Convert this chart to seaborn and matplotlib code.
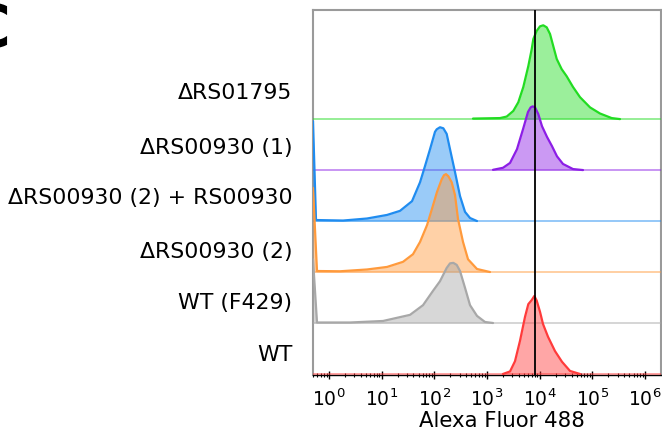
import numpy as np
import pandas as pd
import matplotlib
matplotlib.use("Agg")
import matplotlib.pyplot as plt
import seaborn as sns

# ---- data (log10 of Alexa Fluor 488 intensity, normalised event density) ----
labels = ["WT", "WT (F429)", "ΔRS00930 (2)", "ΔRS00930 (2) + RS00930",
          "ΔRS00930 (1)", "ΔRS01795"]
colors = ["#ff3b3b", "#a8a8a8", "#ff9a3c", "#1f8cf0", "#8c1ee6", "#22dc22"]

logx_wt = [3.30, 3.435, 3.529, 3.624, 3.719, 3.782, 3.846, 3.896, 3.941, 4.004,
           4.061, 4.156, 4.288, 4.421, 4.573, 4.763]
dens_wt = [0.0, 0.05, 0.25, 0.65, 1.12, 1.37, 1.45, 1.53, 1.44, 1.22,
           0.98, 0.73, 0.45, 0.24, 0.06, 0.0]

logx_f429 = [-0.304, -0.228, 0.398, 1.025, 1.537, 1.784, 1.973, 2.106, 2.233,
             2.296, 2.359, 2.423, 2.486, 2.581, 2.676, 2.808, 2.960, 3.112]
dens_f429 = [1.25, 0.01, 0.01, 0.04, 0.16, 0.35, 0.63, 0.82, 1.08,
             1.17, 1.18, 1.14, 1.02, 0.69, 0.35, 0.14, 0.02, 0.0]

logx_d930_2 = [-0.304, -0.228, 0.209, 0.721, 1.101, 1.404, 1.594, 1.727, 1.860,
               1.954, 2.049, 2.139, 2.182, 2.220, 2.264, 2.328, 2.391, 2.448,
               2.543, 2.638, 2.808, 3.055]
dens_d930_2 = [1.65, 0.02, 0.015, 0.05, 0.10, 0.20, 0.35, 0.59, 0.92,
               1.24, 1.57, 1.82, 1.90, 1.92, 1.88, 1.76, 1.51, 1.04,
               0.59, 0.25, 0.06, 0.0]

logx_d930_2c = [-0.304, -0.247, 0.266, 0.721, 1.101, 1.347, 1.575, 1.727, 1.822,
                1.917, 2.011, 2.044, 2.106, 2.169, 2.233, 2.296, 2.391, 2.486,
                2.581, 2.676, 2.808]
dens_d930_2c = [1.96, 0.02, 0.01, 0.05, 0.12, 0.20, 0.39, 0.76, 1.08,
                1.41, 1.75, 1.80, 1.84, 1.82, 1.71, 1.41, 0.96, 0.49,
                0.18, 0.06, 0.0]

logx_d930_1 = [3.112, 3.302, 3.435, 3.567, 3.681, 3.776, 3.827, 3.865, 3.909,
               3.971, 4.042, 4.137, 4.231, 4.326, 4.440, 4.630, 4.820]
dens_d930_1 = [0.005, 0.045, 0.14, 0.41, 0.80, 1.14, 1.23, 1.25, 1.23,
               1.10, 0.86, 0.65, 0.47, 0.27, 0.12, 0.02, 0.0]

logx_d1795 = [2.732, 3.245, 3.372, 3.497, 3.592, 3.687, 3.782, 3.846, 3.877,
              3.941, 4.004, 4.066, 4.131, 4.194, 4.256, 4.321, 4.415, 4.510,
              4.630, 4.763, 4.953, 5.142, 5.364, 5.522]
dens_d1795 = [0.01, 0.02, 0.05, 0.16, 0.33, 0.63, 1.04, 1.37, 1.57,
              1.73, 1.82, 1.84, 1.80, 1.67, 1.43, 1.18, 0.98, 0.84,
              0.63, 0.43, 0.23, 0.11, 0.02, 0.0]

gate_value = 8100          # vertical threshold line
x_decades = [0, 1, 2, 3, 4, 5, 6]

series_x = [logx_wt, logx_f429, logx_d930_2, logx_d930_2c, logx_d930_1, logx_d1795]
series_y = [dens_wt, dens_f429, dens_d930_2, dens_d930_2c, dens_d930_1, dens_d1795]

# ---- figure ----
sns.set_theme(style="white")
plt.rcParams["font.family"] = ["DejaVu Sans"]
plt.rcParams["text.color"] = "black"
plt.rcParams["xtick.color"] = "black"
plt.rcParams["ytick.color"] = "black"
plt.rcParams["axes.labelcolor"] = "black"

fig = plt.figure(figsize=(6.62, 4.34), dpi=100)
ax = fig.add_axes([313 / 662, 1 - 374.5 / 434, 348 / 662, 364.5 / 434])
ax.set_xscale("log")

n = len(labels)
for i in reversed(range(n)):
    off = float(i)
    df = pd.DataFrame({"x": np.power(10.0, series_x[i]),
                       "y": np.asarray(series_y[i]) + off})
    z = 2 + (n - i) * 3
    ax.fill_between(df["x"], off, df["y"], color=colors[i], alpha=0.45,
                    lw=0, zorder=z)
    ax.axhline(off, color=colors[i], lw=1.1, alpha=0.6, zorder=z + 1)
    sns.lineplot(data=df, x="x", y="y", ax=ax, color=colors[i], lw=1.6,
                 sort=False, estimator=None, zorder=z + 2)

ax.axvline(gate_value, color="black", lw=1.3, zorder=50)

ax.set_xlim(10 ** -0.304, 10 ** 6.30)
ax.set_ylim(-0.01, 7.14)

ax.set_xticks([10.0 ** d for d in x_decades])
ax.xaxis.set_major_formatter(matplotlib.ticker.LogFormatterMathtext())
ax.xaxis.set_minor_locator(matplotlib.ticker.LogLocator(base=10, subs=np.arange(2, 10), numticks=20))
ax.tick_params(axis="x", which="major", direction="inout", length=6, width=1,
               color="black", labelsize=13.5, pad=7, bottom=True)
ax.tick_params(axis="x", which="minor", direction="inout", length=3, width=0.8,
               color="black", bottom=True)

label_offsets = [0.42, 0.43, 0.43, 0.49, 0.47, 0.55]
ax.set_yticks([i + label_offsets[i] for i in range(n)])
ax.set_yticklabels(labels, fontsize=15.8)
ax.tick_params(axis="y", length=0, pad=15)

ax.set_xlabel("Alexa Fluor 488", fontsize=15.3)
ax.xaxis.set_label_coords(0.543, -0.1)
ax.set_ylabel("")

for s in ["top", "left", "right"]:
    ax.spines[s].set_color("#9a9a9a")
    ax.spines[s].set_linewidth(1.5)
ax.spines["bottom"].set_color("black")
ax.spines["bottom"].set_linewidth(1.0)

fig.text(10 / 662, 1 - 30 / 434, "C", fontsize=42, fontweight="bold",
         ha="right", va="center")

fig.savefig("out.png", dpi=100)
